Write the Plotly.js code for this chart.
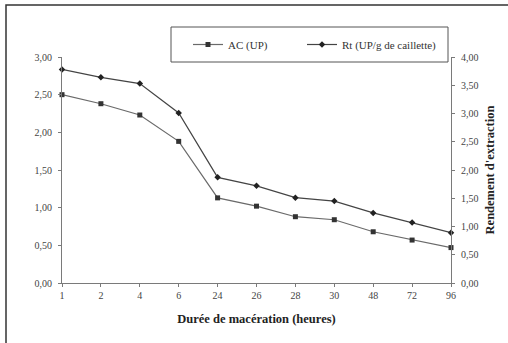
<!DOCTYPE html>
<html><head><meta charset="utf-8">
<script src="https://cdn.plot.ly/plotly-3.0.1.min.js"></script>
<style>html,body{margin:0;padding:0;background:#fff;}#chart{width:508px;height:343px;}</style>
</head><body><div id="chart"></div>
<script>
var durations = ['1','2','4','6','24','26','28','30','48','72','96'];
var acValues = [2.50, 2.38, 2.23, 1.88, 1.13, 1.02, 0.88, 0.84, 0.68, 0.57, 0.47];
var rtValues = [3.78, 3.64, 3.53, 3.01, 1.87, 1.72, 1.51, 1.45, 1.24, 1.07, 0.89];
var leftTicks = [0, 0.5, 1, 1.5, 2, 2.5, 3];
var rightTicks = [0, 0.5, 1, 1.5, 2, 2.5, 3, 3.5, 4];

var serif = 'Liberation Serif';
var axisGray = '#7a7a7a';

var traces = [
  {x: durations, y: acValues, name: 'AC (UP)', type: 'scatter', mode: 'lines+markers',
   line: {color: '#6a6a6a', width: 1.2}, marker: {symbol: 'square', size: 5, color: '#333'},
   xaxis: 'x', yaxis: 'y', cliponaxis: false, legend: 'legend'},
  {x: durations, y: rtValues, name: 'Rt (UP/g de caillette)', type: 'scatter', mode: 'lines+markers',
   line: {color: '#444', width: 1.2}, marker: {symbol: 'diamond', size: 5, color: '#222'},
   xaxis: 'x', yaxis: 'y2', cliponaxis: false, legend: 'legend2'}
];

var L = 62, R = 57, T = 57, B = 60;
var W = 508 - L - R, H = 343 - T - B;
function px(x){ return (x - L) / W; }
function py(y){ return (343 - B - y) / H; }

function legendAt(xpx){
  return {orientation: 'h', x: px(xpx), xanchor: 'left', y: py(44.5), yanchor: 'middle',
    bgcolor: 'rgba(0,0,0,0)', borderwidth: 0, font: {family: serif, size: 11, color: '#333'},
    itemwidth: 30};
}

var layout = {
  width: 508, height: 343,
  margin: {l: L, r: R, t: T, b: B, pad: 0, autoexpand: false},
  paper_bgcolor: '#fff', plot_bgcolor: '#fff',
  separators: ', ',
  font: {family: serif, size: 10, color: '#333'},
  showlegend: true,
  legend: legendAt(188),
  legend2: legendAt(302),
  xaxis: {type: 'category', categoryarray: durations, range: [0, 10],
    showgrid: false, zeroline: false, showline: true, linecolor: axisGray, linewidth: 1,
    ticks: 'outside', ticklen: 3, tickcolor: axisGray, tickwidth: 1,
    tickfont: {family: serif, size: 10, color: '#444'},
    title: {text: '<b>Durée de macération (heures)</b>', font: {family: serif, size: 12.5, color: '#222'}, standoff: 14}},
  xaxis2: {type: 'category', categoryarray: durations, range: [0, 10], overlaying: 'x',
    showgrid: false, zeroline: false, showline: false, ticks: 'inside', ticklen: 3, tickcolor: axisGray,
    showticklabels: false, anchor: 'y'},
  yaxis: {range: [0, 3], tickvals: leftTicks, tickformat: '.2f',
    showgrid: false, zeroline: false, showline: true, linecolor: axisGray, linewidth: 1,
    ticks: 'outside', ticklen: 3, tickcolor: axisGray, ticklabelstandoff: 4,
    tickfont: {family: serif, size: 10, color: '#444'}},
  yaxis3: {range: [0, 3], tickvals: leftTicks, overlaying: 'y', side: 'left', anchor: 'x',
    showgrid: false, zeroline: false, showline: false, ticks: 'inside', ticklen: 3, tickcolor: axisGray,
    showticklabels: false},
  yaxis2: {range: [0, 4], tickvals: rightTicks, tickformat: '.2f', overlaying: 'y', side: 'right', anchor: 'x',
    showgrid: false, zeroline: false, showline: true, linecolor: axisGray, linewidth: 1,
    ticks: 'outside', ticklen: 3, tickcolor: axisGray, ticklabelstandoff: 4,
    tickfont: {family: serif, size: 10, color: '#444'},
    title: {text: '<b>Rendement d\'extraction</b>', font: {family: serif, size: 12.5, color: '#222'}, standoff: 7}},
  yaxis4: {range: [0, 4], tickvals: rightTicks, overlaying: 'y', side: 'right', anchor: 'x',
    showgrid: false, zeroline: false, showline: false, ticks: 'inside', ticklen: 3, tickcolor: axisGray,
    showticklabels: false},
  shapes: [
    {type: 'rect', xref: 'paper', yref: 'paper', x0: px(6), x1: px(512), y0: py(347), y1: py(5),
     line: {color: '#333', width: 1.5}, fillcolor: 'rgba(0,0,0,0)', layer: 'below'},
    {type: 'rect', xref: 'paper', yref: 'paper', x0: px(171), x1: px(448), y0: py(62), y1: py(27),
     line: {color: '#555', width: 1}, fillcolor: '#fff', layer: 'above'}
  ]
};

Plotly.newPlot('chart', traces, layout, {displayModeBar: false, staticPlot: true});
</script></body></html>
